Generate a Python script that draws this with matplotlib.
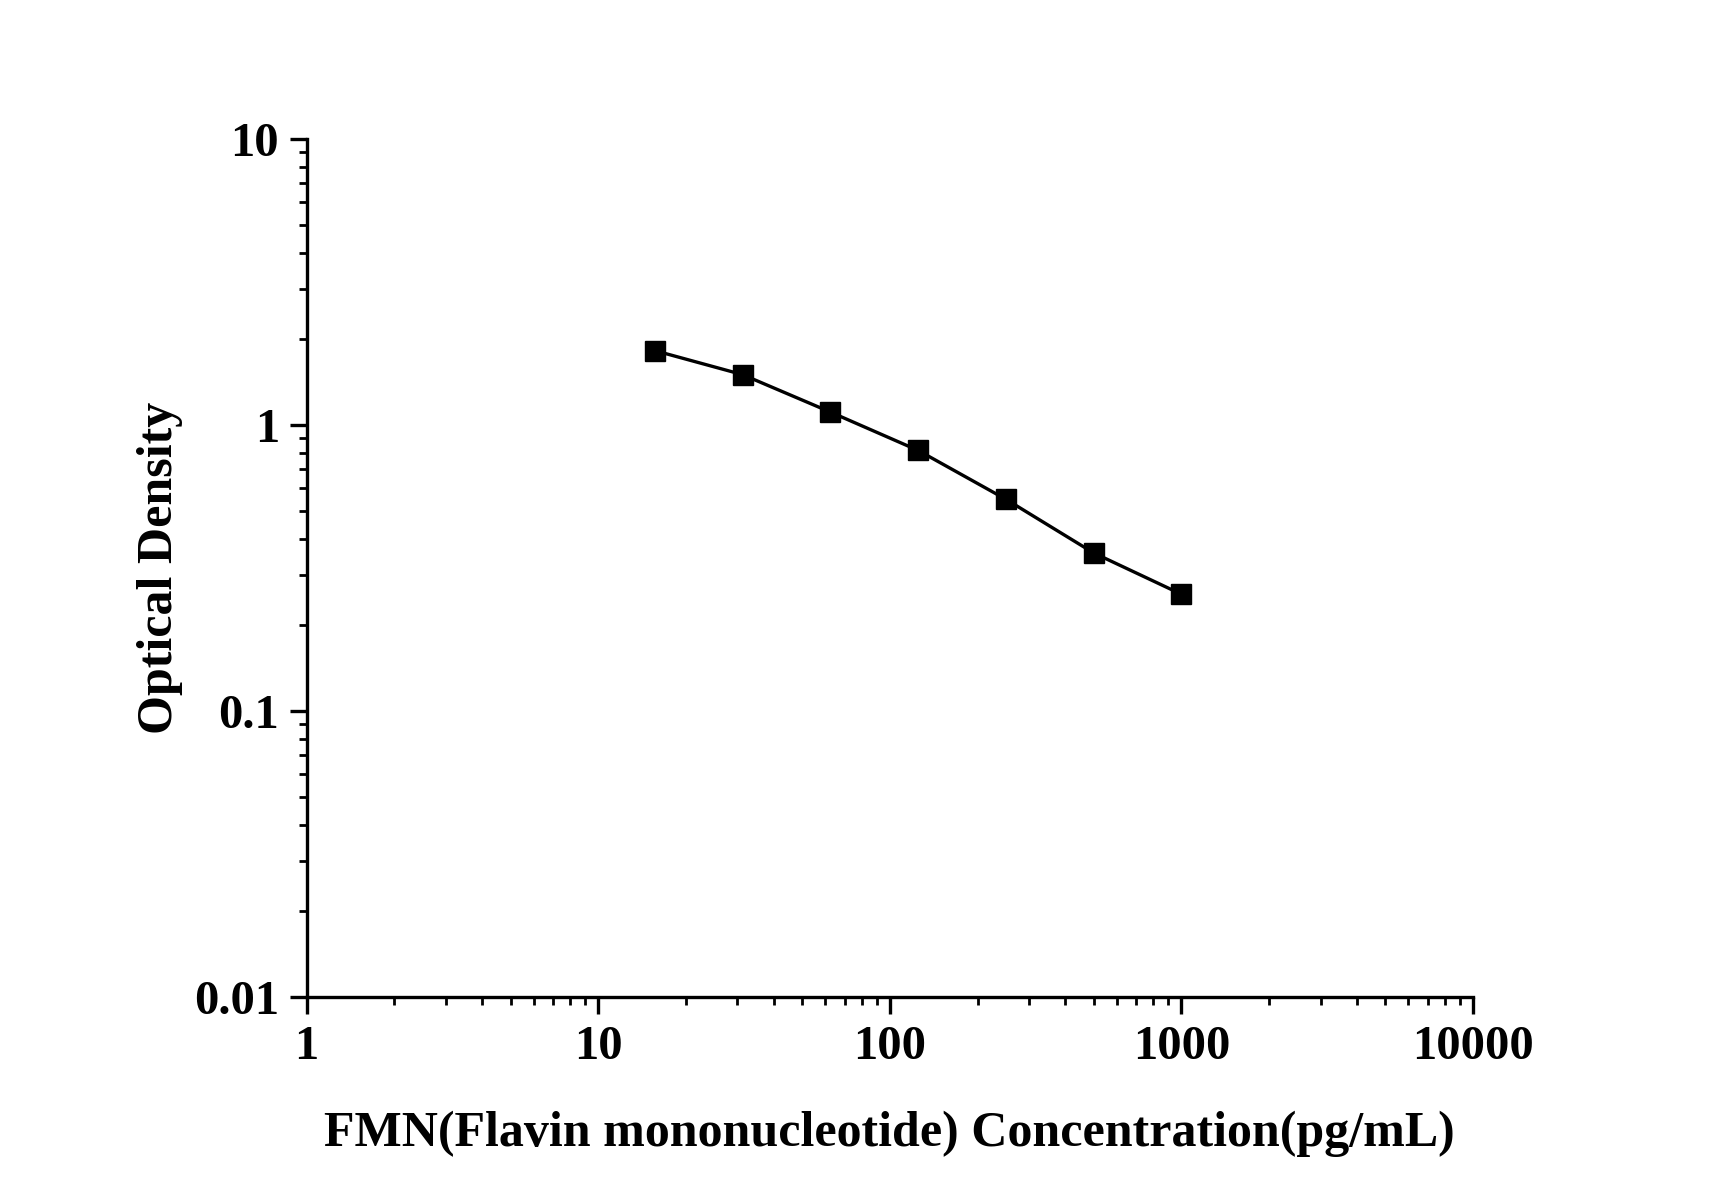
import numpy as np
import matplotlib
matplotlib.use("Agg")
import matplotlib.pyplot as plt
from matplotlib.ticker import LogLocator, FuncFormatter, NullFormatter

plt.rc('font', family='Liberation Serif', weight='bold')

conc = [15.625, 31.25, 62.5, 125, 250, 500, 1000]
od = [1.82, 1.50, 1.11, 0.815, 0.55, 0.357, 0.256]

fig = plt.figure(figsize=(17.12, 11.96), dpi=100)
ax = fig.add_axes([306.7 / 1712, 1 - 997 / 1196, (1473 - 306.7) / 1712, (997 - 139) / 1196])

ax.plot(conc, od, color='black', lw=2.4, marker='s', ms=14, mec='black', mfc='black')

ax.set_xscale('log')
ax.set_yscale('log')
ax.set_xlim(1, 10000)
ax.set_ylim(0.01, 10)

for s in ['top', 'right']:
    ax.spines[s].set_visible(False)
for s in ['left', 'bottom']:
    ax.spines[s].set_linewidth(2.4)

ax.xaxis.set_major_locator(LogLocator(base=10, numticks=10))
ax.yaxis.set_major_locator(LogLocator(base=10, numticks=10))
ax.xaxis.set_minor_locator(LogLocator(base=10, subs=np.arange(2, 10), numticks=20))
ax.yaxis.set_minor_locator(LogLocator(base=10, subs=np.arange(2, 10), numticks=20))
ax.xaxis.set_minor_formatter(NullFormatter())
ax.yaxis.set_minor_formatter(NullFormatter())
ax.xaxis.set_major_formatter(FuncFormatter(lambda v, p: '%g' % v))
ax.yaxis.set_major_formatter(FuncFormatter(lambda v, p: '%g' % v))

ax.tick_params(which='major', direction='out', length=12, width=2.4, labelsize=35, pad=8)
ax.tick_params(which='minor', direction='out', length=6, width=2.0)

ax.set_xlabel('FMN(Flavin mononucleotide) Concentration(pg/mL)', fontsize=36,
              fontweight='bold', labelpad=30)
ax.set_ylabel('Optical Density', fontsize=36, fontweight='bold', labelpad=8)

fig.savefig('out.png', dpi=100)
